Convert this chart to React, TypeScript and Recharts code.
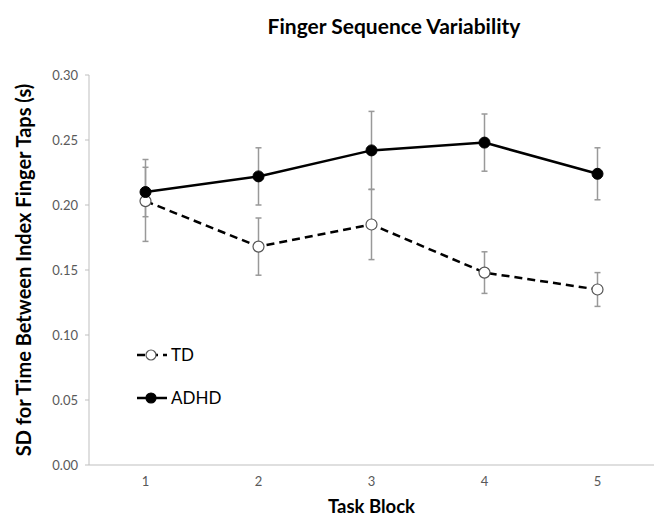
import React from 'react';
import { LineChart, Line, XAxis, YAxis, ErrorBar } from 'recharts';

const blocks = ['1', '2', '3', '4', '5'];
const tdMean = [0.203, 0.168, 0.185, 0.148, 0.135];
const tdErrLow = [0.031, 0.022, 0.027, 0.016, 0.013];
const tdErrHigh = [0.026, 0.022, 0.027, 0.016, 0.013];
const adhdMean = [0.21, 0.222, 0.242, 0.248, 0.224];
const adhdErrLow = [0.019, 0.022, 0.03, 0.022, 0.02];
const adhdErrHigh = [0.025, 0.022, 0.03, 0.022, 0.02];
const yTicks = [0, 0.05, 0.1, 0.15, 0.2, 0.25, 0.3];

const data = blocks.map((b, i) => ({
  block: b,
  td: tdMean[i],
  tdErr: [tdErrLow[i], tdErrHigh[i]],
  adhd: adhdMean[i],
  adhdErr: [adhdErrLow[i], adhdErrHigh[i]],
}));

const font = 'Lato, "Open Sans", sans-serif';

function LegendBox() {
  const row = (label: string, filled: boolean, dashed: boolean) => (
    <div style={{ display: 'flex', alignItems: 'center', height: 43 }}>
      <svg width={34} height={14}>
        <line x1={1} y1={7} x2={31} y2={7} stroke="#000" strokeWidth={2.5} strokeDasharray={dashed ? '8 5' : undefined} />
        <circle cx={15} cy={7} r={5} fill={filled ? '#000' : '#fff'} stroke={filled ? '#000' : '#555'} strokeWidth={1.2} />
      </svg>
      <span style={{ fontSize: 17, color: '#000', marginLeft: 1 }}>{label}</span>
    </div>
  );
  return (
    <div style={{ position: 'absolute', left: 136, top: 333, fontFamily: font }}>
      {row('TD', false, true)}
      {row('ADHD', true, false)}
    </div>
  );
}

export default function App() {
  return (
    <div style={{ position: 'absolute', left: 0, top: 0, width: 654, height: 517, background: '#fff', fontFamily: font }}>
      <div style={{ position: 'absolute', left: 394, top: 25, transform: 'translate(-50%, -50%)', fontSize: 21, fontWeight: 700, whiteSpace: 'nowrap', color: '#000' }}>
        Finger Sequence Variability
      </div>
      <LineChart width={654} height={517} data={data} margin={{ top: 75, right: 0, bottom: 0, left: 0 }}>
        <XAxis
          dataKey="block"
          padding={{ left: 56.5, right: 56.5 }}
          height={52}
          tickLine={false}
          tickSize={0}
          tickMargin={12}
          stroke="#bfbfbf"
          tick={{ fill: '#595959', fontSize: 13, fontFamily: font }}
          label={{ value: 'Task Block', position: 'insideBottom', offset: 4, fill: '#000', fontSize: 18.5, fontWeight: 700, fontFamily: font }}
        />
        <YAxis
          domain={[0, 0.3]}
          ticks={yTicks}
          width={89}
          tickSize={4}
          tickMargin={7}
          stroke="#bfbfbf"
          tickFormatter={(v: number) => v.toFixed(2)}
          tick={{ fill: '#595959', fontSize: 13, fontFamily: font }}
          label={{ value: 'SD for Time Between Index Finger Taps (s)', angle: -90, position: 'insideLeft', offset: 24, style: { textAnchor: 'middle' }, fill: '#000', fontSize: 20, fontWeight: 700, fontFamily: font }}
        />
        <Line
          dataKey="td"
          stroke="#000"
          strokeWidth={2.5}
          strokeDasharray="8 5"
          dot={{ r: 5.5, fill: '#fff', stroke: '#555', strokeWidth: 1.2, strokeDasharray: '' }}
          isAnimationActive={false}
        >
          <ErrorBar dataKey="tdErr" width={3} stroke="#999" strokeWidth={1.5} direction="y" />
        </Line>
        <Line
          dataKey="adhd"
          stroke="#000"
          strokeWidth={2.5}
          dot={{ r: 5.5, fill: '#000', stroke: '#000', strokeWidth: 1 }}
          isAnimationActive={false}
        >
          <ErrorBar dataKey="adhdErr" width={3} stroke="#999" strokeWidth={1.5} direction="y" />
        </Line>
      </LineChart>
      <LegendBox />
    </div>
  );
}
